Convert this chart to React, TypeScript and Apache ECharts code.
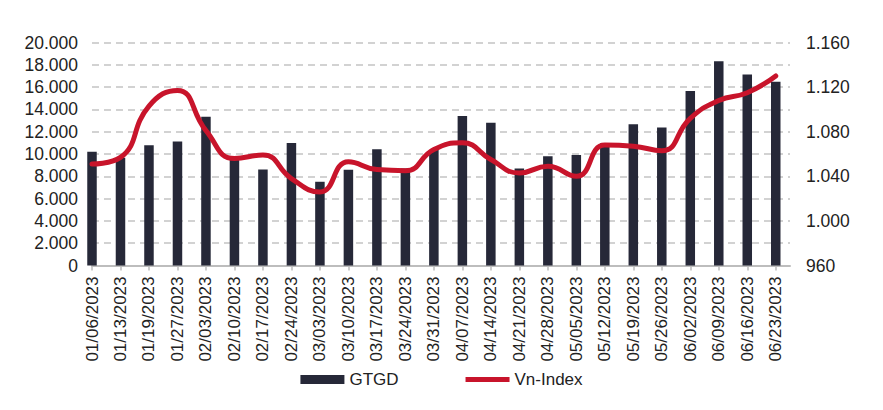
import React, { useEffect, useRef } from "react";
import * as echarts from "echarts";

const categories = [
  "01/06/2023", "01/13/2023", "01/19/2023", "01/27/2023", "02/03/2023",
  "02/10/2023", "02/17/2023", "02/24/2023", "03/03/2023", "03/10/2023",
  "03/17/2023", "03/24/2023", "03/31/2023", "04/07/2023", "04/14/2023",
  "04/21/2023", "04/28/2023", "05/05/2023", "05/12/2023", "05/19/2023",
  "05/26/2023", "06/02/2023", "06/09/2023", "06/16/2023", "06/23/2023",
];

const gtgd = [
  10210, 9670, 10780, 11110, 13350, 9820, 8620, 10990, 7510, 8590,
  10420, 8700, 10360, 13410, 12810, 8710, 9790, 9910, 10960, 12660,
  12370, 15660, 18320, 17130, 16470,
];

const vnIndex = [
  1051, 1057, 1103, 1117, 1081, 1056, 1059, 1038, 1026, 1053,
  1046, 1045, 1064, 1070, 1055, 1043, 1049, 1040, 1068, 1067,
  1063, 1092, 1108, 1115, 1130,
];

const leftTicks = { min: 0, max: 20000, interval: 2000 };
const rightTicks = { min: 960, max: 1160, interval: 40 };

const fmt = (v: number) =>
  String(Math.round(v)).replace(/\B(?=(\d{3})+(?!\d))/g, ".");

const FONT = "'Liberation Sans', Arial, sans-serif";

export default function App() {
  const ref = useRef<HTMLDivElement>(null);
  useEffect(() => {
    if (!ref.current) return;
    const chart = echarts.init(ref.current, undefined, { renderer: "svg" });
    chart.setOption({
      animation: false,
      backgroundColor: "#ffffff",
      textStyle: { fontFamily: FONT },
      grid: { left: 92, right: 93, top: 42.5, bottom: 144.5 },
      legend: {
        top: 366,
        left: "center",
        itemGap: 67,
        itemWidth: 44,
        itemHeight: 9,
        textStyle: { fontSize: 17, color: "#222", fontFamily: FONT },
        data: [
          { name: "GTGD", icon: "rect" },
          { name: "Vn-Index", icon: "path://M0,0 h100 v11 h-100 z" },
        ],
      },
      xAxis: {
        type: "value",
        min: 0,
        max: 24.5,
        interval: 1,
        splitLine: { show: false },
        axisLine: { show: true, lineStyle: { color: "#bdbdbd", width: 2 } },
        axisTick: { show: true, length: 5, lineStyle: { color: "#bdbdbd", width: 1.5 } },
        axisLabel: {
          rotate: 90,
          margin: 11,
          fontSize: 17,
          color: "#222",
          fontFamily: FONT,
          showMaxLabel: false,
          formatter: (v: number) =>
            Number.isInteger(v) && categories[v] ? categories[v] : "",
        },
      },
      yAxis: [
        {
          type: "value",
          ...leftTicks,
          axisLine: { show: false },
          axisTick: { show: false },
          splitLine: {
            show: true,
            lineStyle: { color: "#c4c4c4", type: [7, 5], width: 1.5 },
          },
          axisLabel: {
            margin: 14,
            fontSize: 17.5,
            color: "#222",
            fontFamily: FONT,
            formatter: (v: number) => fmt(v),
          },
        },
        {
          type: "value",
          ...rightTicks,
          axisLine: { show: false },
          axisTick: { show: false },
          splitLine: { show: false },
          axisLabel: {
            margin: 16,
            fontSize: 17.5,
            color: "#222",
            fontFamily: FONT,
            formatter: (v: number) => fmt(v),
          },
        },
      ],
      series: [
        {
          name: "GTGD",
          type: "bar",
          yAxisIndex: 0,
          barWidth: 9.5,
          itemStyle: { color: "#262838" },
          data: gtgd.map((v, i) => [i, v]),
        },
        {
          name: "Vn-Index",
          type: "line",
          yAxisIndex: 1,
          smooth: 0.5,
          symbol: "none",
          showSymbol: false,
          lineStyle: { color: "#c8142b", width: 5, cap: "round" },
          itemStyle: { color: "#c8142b" },
          data: vnIndex.map((v, i) => [i, v]),
        },
      ],
    });
    return () => chart.dispose();
  }, []);
  return (
    <div
      ref={ref}
      style={{ position: "fixed", left: 0, top: 0, width: 883, height: 410 }}
    />
  );
}
